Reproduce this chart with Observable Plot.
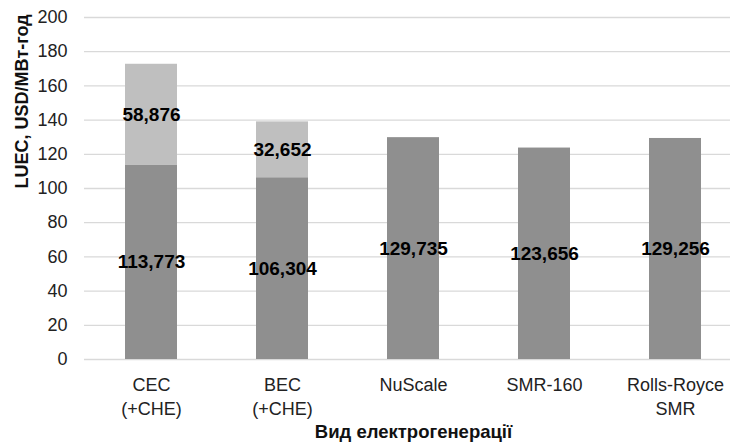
<!DOCTYPE html>
<html>
<head>
<meta charset="utf-8">
<script src="https://cdn.jsdelivr.net/npm/d3@7"></script>
<script src="https://cdn.jsdelivr.net/npm/@observablehq/plot@0.6"></script>
<style>
  html, body { margin: 0; padding: 0; background: #fff; }
  svg { overflow: hidden; }
</style>
</head>
<body>
<div id="chart"></div>
<script>
const categories = ["CEC", "BEC", "NuScale", "SMR-160", "Rolls-Royce"];
const tickLabels = ["CEC\n(+CHE)", "BEC\n(+CHE)", "NuScale", "SMR-160", "Rolls-Royce\nSMR"];
const baseValues = [113.773, 106.304, 129.735, 123.656, 129.256];
const heatValues = [58.876, 32.652, 0, 0, 0];
const yTicks = [0, 20, 40, 60, 80, 100, 120, 140, 160, 180, 200];
const yTitle = "LUEC, USD/MBт-год";
const xTitle = "Вид електрогенерації";

const rows = [];
categories.forEach((c, i) => {
  rows.push({cat: c, part: "base", value: baseValues[i]});
  if (heatValues[i] > 0) rows.push({cat: c, part: "extra", value: heatValues[i]});
});
const fmt = v => v.toFixed(3).replace(".", ",");
const font = "'Liberation Sans', Arial, sans-serif";

const chart = Plot.plot({
  width: 730,
  height: 444,
  marginTop: 17,
  marginBottom: 85,
  marginLeft: 84,
  marginRight: -12,
  style: {fontFamily: font, background: "#fff"},
  x: {domain: categories, paddingInner: 0.6, paddingOuter: 0.3, label: null},
  y: {domain: [0, 200], label: null},
  color: {domain: ["base", "extra"], range: ["#8f8f8f", "#bfbfbf"]},
  marks: [
    Plot.gridY(yTicks, {stroke: "#d9d9d9", strokeOpacity: 1, strokeWidth: 1.3}),
    Plot.barY(rows, Plot.stackY({x: "cat", y: "value", fill: "part"})),
    Plot.text(rows, Plot.stackY({x: "cat", y: "value", z: "part", text: d => fmt(d.value),
      fontWeight: "bold", fontSize: 19, fill: "#000"})),
    Plot.axisY(yTicks, {tickSize: 0, tickPadding: 17, fontSize: 18, fill: "#222", label: null}),
    Plot.axisX({tickSize: 0, tickPadding: 15, fontSize: 18, fill: "#222", lineHeight: 1.33,
      tickFormat: c => tickLabels[categories.indexOf(c)], label: null}),
    Plot.text([yTitle], {frameAnchor: "left", dx: -62, rotate: -90, fontWeight: "bold", fontSize: 18, fill: "#111"}),
    Plot.text([xTitle], {frameAnchor: "bottom", dy: 78, fontWeight: "bold", fontSize: 18.5, fill: "#111"})
  ]
});
document.getElementById("chart").appendChild(chart);
</script>
</body>
</html>
